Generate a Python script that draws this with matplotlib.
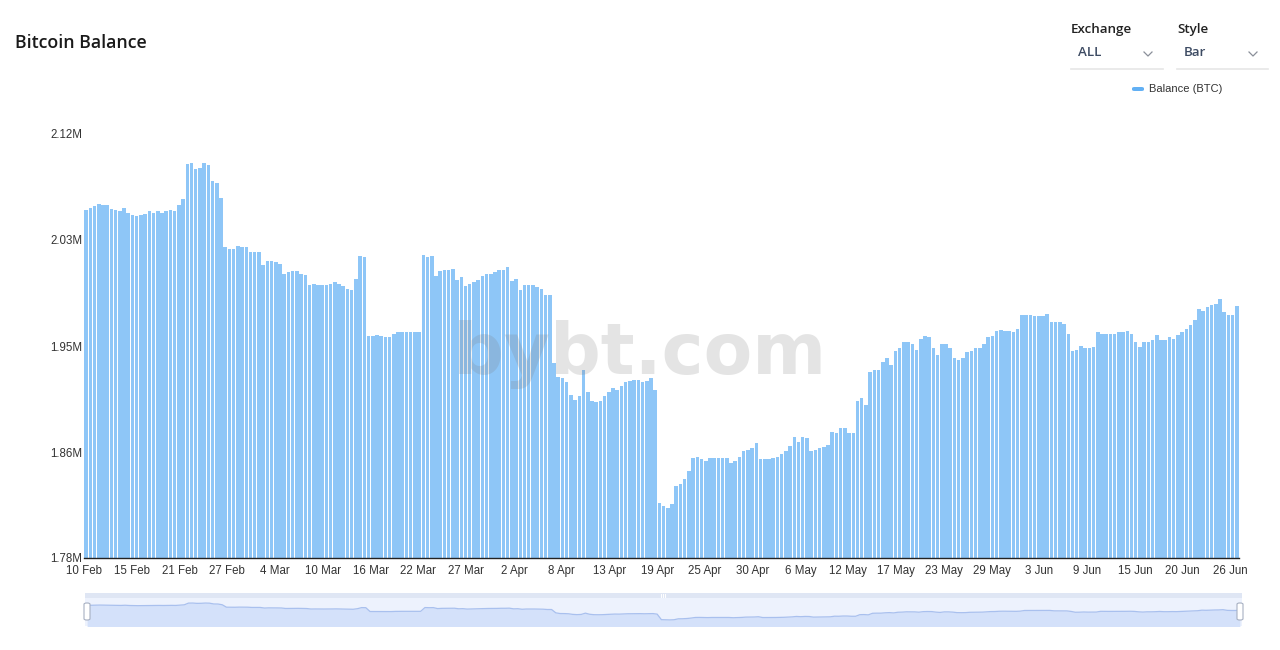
"""Bitcoin exchange balance bar chart (bybt style)."""

import matplotlib
matplotlib.use("Agg")
import matplotlib.pyplot as plt
import numpy as np
from matplotlib.lines import Line2D
from matplotlib.patches import FancyBboxPatch, Rectangle

# 12-hour balance readings, in millions of BTC, from 10 Feb onwards
balance_m = [
    2.059, 2.061, 2.062, 2.064, 2.063, 2.063, 2.060, 2.059, 2.058, 2.061,
    2.057, 2.055, 2.054, 2.055, 2.056, 2.058, 2.057, 2.058, 2.057, 2.058,
    2.059, 2.058, 2.063, 2.068, 2.096, 2.097, 2.092, 2.093, 2.097, 2.095,
    2.082, 2.081, 2.069, 2.029, 2.028, 2.028, 2.030, 2.029, 2.029, 2.025,
    2.025, 2.025, 2.015, 2.018, 2.018, 2.017, 2.016, 2.008, 2.009, 2.010,
    2.010, 2.008, 2.007, 1.999, 2.000, 1.999, 1.999, 1.999, 2.000, 2.001,
    2.000, 1.998, 1.996, 1.995, 2.004, 2.022, 2.021, 1.958, 1.958, 1.959,
    1.958, 1.957, 1.957, 1.960, 1.961, 1.961, 1.961, 1.961, 1.961, 1.961,
    2.023, 2.021, 2.022, 2.006, 2.010, 2.011, 2.011, 2.012, 2.003, 2.005,
    1.998, 2.000, 2.001, 2.003, 2.006, 2.008, 2.008, 2.009, 2.011, 2.011,
    2.013, 2.002, 2.004, 1.995, 1.999, 1.999, 1.999, 1.997, 1.996, 1.991,
    1.991, 1.936, 1.925, 1.924, 1.921, 1.911, 1.907, 1.910, 1.931, 1.913,
    1.906, 1.905, 1.906, 1.910, 1.913, 1.916, 1.915, 1.918, 1.921, 1.922,
    1.923, 1.923, 1.921, 1.922, 1.924, 1.915, 1.824, 1.822, 1.820, 1.823,
    1.838, 1.839, 1.843, 1.850, 1.860, 1.861, 1.859, 1.858, 1.860, 1.860,
    1.860, 1.860, 1.860, 1.856, 1.858, 1.861, 1.866, 1.867, 1.868, 1.872,
    1.859, 1.859, 1.859, 1.860, 1.861, 1.863, 1.866, 1.870, 1.877, 1.873,
    1.877, 1.876, 1.866, 1.867, 1.868, 1.869, 1.871, 1.881, 1.880, 1.884,
    1.884, 1.880, 1.880, 1.906, 1.908, 1.903, 1.929, 1.931, 1.931, 1.937,
    1.940, 1.935, 1.946, 1.948, 1.953, 1.953, 1.952, 1.947, 1.956, 1.958,
    1.957, 1.948, 1.943, 1.952, 1.952, 1.948, 1.940, 1.939, 1.940, 1.945,
    1.946, 1.948, 1.948, 1.952, 1.957, 1.958, 1.962, 1.963, 1.962, 1.962,
    1.961, 1.964, 1.975, 1.975, 1.975, 1.974, 1.974, 1.974, 1.976, 1.969,
    1.969, 1.969, 1.968, 1.960, 1.946, 1.947, 1.950, 1.948, 1.948, 1.949,
    1.961, 1.960, 1.960, 1.960, 1.960, 1.961, 1.961, 1.962, 1.960, 1.953,
    1.949, 1.953, 1.953, 1.955, 1.959, 1.955, 1.955, 1.957, 1.956, 1.959,
    1.961, 1.964, 1.967, 1.971, 1.980, 1.978, 1.981, 1.983, 1.984, 1.988,
    1.977, 1.975, 1.975, 1.982,
]

x_labels = [
    "10 Feb", "15 Feb", "21 Feb", "27 Feb", "4 Mar", "10 Mar", "16 Mar",
    "22 Mar", "27 Mar", "2 Apr", "8 Apr", "13 Apr", "19 Apr", "25 Apr",
    "30 Apr", "6 May", "12 May", "17 May", "23 May", "29 May", "3 Jun",
    "9 Jun", "15 Jun", "20 Jun", "26 Jun",
]
label_step_days = 17 / 3

y_ticks = [1.78, 1.865, 1.95, 2.035, 2.12]
y_labels = ["1.78M", "1.86M", "1.95M", "2.03M", "2.12M"]

BAR_COLOR = "#8ec6f7"
TEXT = "#333333"
W, H = 1280, 650

plt.rcParams["font.family"] = ["Liberation Sans", "DejaVu Sans"]

fig = plt.figure(figsize=(W / 100, H / 100), dpi=100)
fig.patch.set_facecolor("white")


def fx(px):
    return px / W


def fy(py):
    return 1 - py / H


# main bar chart
ax = fig.add_axes([fx(84), fy(558), fx(1239) - fx(84), fy(134) - fy(558)])
vals = np.array(balance_m)
days = np.arange(len(vals)) * 0.5
ax.bar(days + 0.25, vals - 1.78, bottom=1.78, width=0.42, color=BAR_COLOR,
       linewidth=0, zorder=2)
ax.set_xlim(0, len(vals) * 0.5)
ax.set_ylim(1.78, 2.12)

ax.set_yticks(y_ticks)
ax.set_yticklabels(y_labels)
ax.set_xticks(np.arange(len(x_labels)) * label_step_days)
ax.set_xticklabels(x_labels)
ax.tick_params(axis="both", length=0, labelsize=8.3, colors=TEXT)
ax.tick_params(axis="y", pad=1)
ax.tick_params(axis="x", pad=5)
for side in ("top", "right", "left"):
    ax.spines[side].set_visible(False)
ax.spines["bottom"].set_color("#222222")
ax.spines["bottom"].set_linewidth(1.0)
ax.spines["bottom"].set_zorder(3)

# watermark on top of the bars
ax.text(0.481, 0.48, "bybt.com", transform=ax.transAxes, ha="center",
        va="center", fontsize=51, fontweight="bold", color="#7a7a7a",
        alpha=0.2, family=["DejaVu Sans"], zorder=4)

# title and selectors
fig.text(fx(15), fy(43), "Bitcoin Balance", fontsize=12.8, color="#1a1a1a",
         va="center", ha="left", family=["Open Sans", "DejaVu Sans"],
         fontweight="semibold")

for label, value, x0, x1 in [("Exchange", "ALL", 1071, 1163),
                             ("Style", "Bar", 1177, 1268)]:
    fig.text(fx(x0), fy(30), label, fontsize=9.6, color="#222222",
             va="center", ha="left", family=["Open Sans", "DejaVu Sans"],
             fontweight="semibold")
    fig.text(fx(x0 + 7), fy(53), value, fontsize=9.6, color="#3d4b63",
             va="center", ha="left", family=["Open Sans", "DejaVu Sans"],
             fontweight="semibold")
    cx = x1 - 15
    fig.add_artist(Line2D([fx(cx - 4), fx(cx), fx(cx + 4)],
                          [fy(52), fy(56), fy(52)], color="#8a8f99",
                          linewidth=0.9))
    fig.add_artist(Line2D([fx(x0), fx(x1)], [fy(69), fy(69)],
                          color="#e6e6e6", linewidth=1.2))

# legend
fig.add_artist(FancyBboxPatch((fx(1132), fy(91)), fx(12), fy(87) - fy(91),
                              boxstyle="round,pad=0,rounding_size=0.002",
                              facecolor="#62b0f4", edgecolor="none"))
fig.text(fx(1149), fy(89), "Balance (BTC)", fontsize=8, color=TEXT,
         va="center", ha="left")

# zoom slider with data shadow
sl = fig.add_axes([fx(85), fy(626), fx(1242) - fx(85), fy(598) - fy(626)])
sl.set_facecolor("#edf2fd")
sl.fill_between(days + 0.25, vals, 1.70, color="#d4e1fa", linewidth=0)
sl.plot(days + 0.25, vals, color="#a9c0ee", linewidth=0.9)
sl.set_xlim(0, len(vals) * 0.5)
sl.set_ylim(1.72, 2.18)
sl.set_xticks([])
sl.set_yticks([])
for s in sl.spines.values():
    s.set_visible(False)

fig.add_artist(Rectangle((fx(85), fy(598)), fx(1242) - fx(85),
                         fy(593) - fy(598), facecolor="#dfe6f4",
                         edgecolor="none"))
for hx in (87, 1240):
    fig.add_artist(FancyBboxPatch((fx(hx - 3), fy(620)), fx(6),
                                  fy(603) - fy(620),
                                  boxstyle="round,pad=0,rounding_size=0.002",
                                  facecolor="white", edgecolor="#a7b0c2",
                                  linewidth=0.8))
for dx in (-2, 0, 2):
    fig.add_artist(Line2D([fx(663 + dx)] * 2, [fy(594), fy(597)],
                          color="white", linewidth=0.7))

fig.savefig("out.png", dpi=100, facecolor="white")
